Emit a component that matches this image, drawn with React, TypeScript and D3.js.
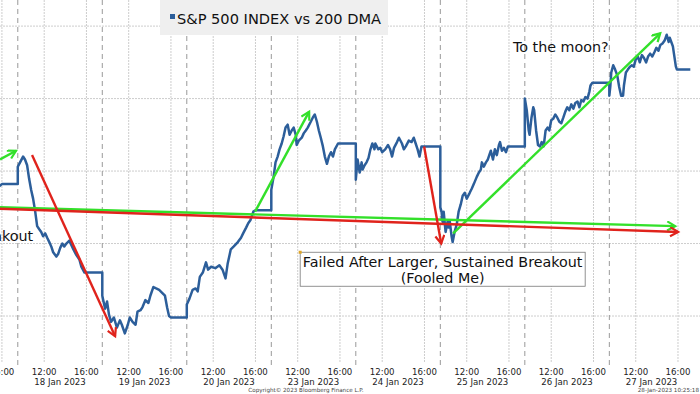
import { useEffect, useRef } from "react";
import * as d3 from "d3";

// trading days on the axis
const days = [
  "17 Jan 2023",
  "18 Jan 2023",
  "19 Jan 2023",
  "20 Jan 2023",
  "23 Jan 2023",
  "24 Jan 2023",
  "25 Jan 2023",
  "26 Jan 2023",
  "27 Jan 2023",
];
const hourTicks = ["12:00", "16:00"];
const yTicks = [3900, 3950, 4000, 4050, 4100];

// S&P 500 intraday, [time, level] per day
const jan17 = [["15:40", 3989], ["16:00", 3991], ["17:30", 3991]];
const jan18 = [
  ["09:30", 4003], ["09:43", 4006], ["10:00", 4010], ["10:11", 4008], ["10:23", 4004],
  ["10:34", 3995], ["10:46", 3987], ["10:57", 3981], ["11:09", 3972], ["11:20", 3962],
  ["11:31", 3960], ["11:43", 3958], ["11:54", 3955], ["12:06", 3957], ["12:17", 3954],
  ["12:29", 3951], ["12:40", 3948], ["12:51", 3944], ["13:09", 3941], ["13:20", 3943],
  ["13:31", 3947], ["13:43", 3950], ["13:54", 3948], ["14:06", 3950], ["14:23", 3952],
  ["14:34", 3949], ["14:46", 3946], ["15:03", 3942], ["15:20", 3939], ["15:31", 3934],
  ["15:49", 3930], ["16:00", 3930], ["17:30", 3930],
];
const jan19 = [
  ["09:30", 3914], ["09:46", 3905], ["09:57", 3910], ["10:08", 3901], ["10:20", 3896],
  ["10:36", 3899], ["10:53", 3892], ["11:10", 3897], ["11:21", 3894], ["11:38", 3888],
  ["11:55", 3894], ["12:06", 3899], ["12:22", 3896], ["12:39", 3894], ["12:50", 3903],
  ["13:07", 3904], ["13:18", 3906], ["13:35", 3911], ["13:52", 3909], ["14:03", 3914],
  ["14:20", 3920], ["14:36", 3919], ["14:53", 3918], ["15:10", 3916], ["15:26", 3914],
  ["15:38", 3906], ["15:49", 3900], ["16:00", 3899], ["17:30", 3899],
];
const jan20 = [
  ["09:30", 3908], ["09:45", 3912], ["10:03", 3918], ["10:20", 3919], ["10:32", 3917],
  ["10:44", 3927], ["11:01", 3930], ["11:19", 3937], ["11:31", 3932], ["11:48", 3934],
  ["12:12", 3933], ["12:35", 3935], ["12:53", 3932], ["13:10", 3926], ["13:22", 3936],
  ["13:40", 3946], ["13:57", 3948], ["14:20", 3951], ["14:38", 3954], ["14:50", 3957],
  ["15:07", 3961], ["15:19", 3964], ["15:31", 3966], ["15:48", 3972], ["16:00", 3973],
  ["17:30", 3973],
];
const jan23 = [
  ["09:30", 3987], ["09:43", 3996], ["09:54", 4006], ["10:06", 4010], ["10:17", 4015],
  ["10:29", 4019], ["10:40", 4024], ["10:51", 4030], ["11:03", 4032], ["11:14", 4025],
  ["11:26", 4028], ["11:37", 4030], ["11:49", 4025], ["11:54", 4018], ["12:06", 4021],
  ["12:23", 4023], ["12:34", 4026], ["12:46", 4028], ["12:57", 4030], ["13:14", 4034],
  ["13:26", 4037], ["13:37", 4039], ["13:49", 4034], ["14:00", 4028], ["14:11", 4023],
  ["14:23", 4017], ["14:34", 4010], ["14:46", 4005], ["14:57", 4010], ["15:09", 4013],
  ["15:20", 4010], ["15:31", 4015], ["15:49", 4019], ["16:00", 4019], ["17:30", 4019],
];
const jan24 = [
  ["09:30", 3994], ["09:40", 4008], ["09:52", 3999], ["10:03", 4006], ["10:08", 4001],
  ["10:20", 4004], ["10:31", 4006], ["10:42", 4009], ["10:53", 4015], ["11:04", 4019],
  ["11:16", 4015], ["11:21", 4019], ["11:38", 4015], ["11:49", 4016], ["12:00", 4013],
  ["12:17", 4015], ["12:33", 4018], ["12:45", 4015], ["12:56", 4010], ["13:07", 4016],
  ["13:24", 4020], ["13:35", 4023], ["13:52", 4019], ["14:03", 4015], ["14:14", 4017],
  ["14:31", 4021], ["14:47", 4020], ["14:59", 4023], ["15:10", 4019], ["15:21", 4015],
  ["15:32", 4010], ["15:43", 4017], ["16:00", 4017], ["17:30", 4017],
];
const jan25 = [
  ["09:30", 3975], ["09:37", 3972], ["09:43", 3965], ["09:49", 3972], ["10:00", 3958],
  ["10:11", 3965], ["10:17", 3961], ["10:23", 3966], ["10:34", 3955], ["10:40", 3951],
  ["10:51", 3958], ["11:03", 3963], ["11:14", 3972], ["11:26", 3977], ["11:37", 3983],
  ["11:49", 3985], ["12:00", 3981], ["12:17", 3985], ["12:29", 3988], ["12:40", 3991],
  ["12:57", 3996], ["13:09", 3999], ["13:20", 4001], ["13:26", 4006], ["13:37", 4003],
  ["13:49", 4006], ["14:00", 4008], ["14:11", 4012], ["14:17", 4014], ["14:29", 4008],
  ["14:40", 4015], ["14:51", 4011], ["15:03", 4018], ["15:09", 4020], ["15:20", 4014],
  ["15:31", 4016], ["15:43", 4013], ["15:54", 4017], ["16:00", 4017], ["17:30", 4017],
];
const jan26 = [
  ["09:30", 4050], ["09:41", 4042], ["09:52", 4028], ["09:57", 4025], ["10:08", 4037],
  ["10:18", 4044], ["10:23", 4042], ["10:34", 4028], ["10:45", 4018], ["10:56", 4017],
  ["11:06", 4020], ["11:17", 4017], ["11:28", 4028], ["11:39", 4030], ["11:49", 4028],
  ["12:00", 4035], ["12:11", 4036], ["12:23", 4039], ["12:34", 4037], ["12:46", 4034],
  ["12:57", 4033], ["13:09", 4037], ["13:20", 4041], ["13:31", 4044], ["13:43", 4042],
  ["13:54", 4046], ["14:06", 4043], ["14:17", 4047], ["14:29", 4048], ["14:40", 4044],
  ["14:51", 4049], ["15:03", 4048], ["15:14", 4051], ["15:26", 4050], ["15:37", 4055],
  ["15:43", 4059], ["15:54", 4061], ["16:00", 4061], ["17:30", 4061],
];
const jan27 = [
  ["09:30", 4052], ["09:36", 4059], ["09:41", 4068], ["09:52", 4073], ["10:03", 4070],
  ["10:15", 4066], ["10:26", 4058], ["10:37", 4052], ["10:48", 4052], ["10:53", 4059],
  ["11:04", 4068], ["11:15", 4070], ["11:27", 4072], ["11:38", 4073], ["11:49", 4072],
  ["12:00", 4077], ["12:12", 4079], ["12:23", 4075], ["12:35", 4080], ["12:47", 4078],
  ["12:59", 4075], ["13:10", 4079], ["13:22", 4081], ["13:34", 4079], ["13:46", 4082],
  ["13:57", 4085], ["14:09", 4083], ["14:20", 4087], ["14:32", 4088], ["14:44", 4090],
  ["14:56", 4094], ["15:07", 4089], ["15:13", 4092], ["15:25", 4088], ["15:31", 4086],
  ["15:37", 4081], ["15:48", 4072], ["15:54", 4070], ["16:00", 4070], ["17:10", 4070],
];
const sessions = [jan17, jan18, jan19, jan20, jan23, jan24, jan25, jan26, jan27];

// hand-drawn arrows: [day index, time, level]
const greenArrows = [
  [[0, "15:49", 3975], [8, "15:44", 3962]],
  [[0, "15:49", 4008], [0, "17:20", 4014]],
  [[3, "15:58", 3972], [4, "13:05", 4041]],
  [[6, "10:43", 3957], [8, "14:19", 4095]],
];
const redArrows = [
  [[0, "15:49", 3974], [8, "16:01", 3958]],
  [[1, "10:51", 4011], [2, "10:43", 3886]],
  [[5, "15:58", 4017], [6, "09:35", 3950]],
];

const W = 700;
const H = 394;
const plotBottom = 363;
const font = "'DejaVu Sans', Verdana, sans-serif";

// hours since 17 Jan open, each session 09:30-17:30
function sessionTime(day, time) {
  const [h, m] = time.split(":").map(Number);
  return day * 8 + (h + m / 60 - 9.5);
}

function App() {
  const ref = useRef(null);

  useEffect(() => {
    const svg = d3.select(ref.current);
    svg.selectAll("*").remove();

    const x = d3
      .scaleLinear()
      .domain([sessionTime(0, "15:49"), sessionTime(8, "18:05")])
      .range([0, W]);
    const y = d3.scaleLinear().domain([3867.6, 4118]).range([plotBottom, 0]);
    const px = (p) => x(sessionTime(p[0], p[1]));
    const py = (p) => y(p[2]);

    svg.append("rect").attr("width", W).attr("height", H).attr("fill", "#fff");

    const defs = svg.append("defs");
    defs
      .append("clipPath")
      .attr("id", "plot")
      .append("rect")
      .attr("width", W)
      .attr("height", plotBottom);
    [
      ["head-green", "#33e02a"],
      ["head-red", "#e0231c"],
    ].forEach(([id, c]) => {
      defs
        .append("marker")
        .attr("id", id)
        .attr("markerUnits", "userSpaceOnUse")
        .attr("markerWidth", 12)
        .attr("markerHeight", 12)
        .attr("refX", 9)
        .attr("refY", 5)
        .attr("orient", "auto")
        .append("path")
        .attr("d", "M1,0.5 L9,5 L1,9.5")
        .attr("fill", "none")
        .attr("stroke", c)
        .attr("stroke-width", 2.2);
    });

    // grid
    const grid = svg.append("g");
    yTicks.forEach((v) => {
      grid
        .append("line")
        .attr("x1", 0)
        .attr("x2", W)
        .attr("y1", y(v))
        .attr("y2", y(v))
        .attr("stroke", "#cdcdcd")
        .attr("stroke-dasharray", "2,1");
    });
    days.forEach((day, d) => {
      hourTicks.forEach((t) => {
        const xx = x(sessionTime(d, t));
        if (xx < 0) return;
        grid
          .append("line")
          .attr("x1", xx)
          .attr("x2", xx)
          .attr("y1", 0)
          .attr("y2", plotBottom)
          .attr("stroke", "#cdcdcd")
          .attr("stroke-dasharray", "2,1");
        svg
          .append("text")
          .attr("x", xx)
          .attr("y", 375)
          .attr("text-anchor", "middle")
          .attr("font-family", font)
          .attr("font-size", 8.6)
          .attr("fill", "#222")
          .text(t);
      });
      if (d === 0) return; // 17 Jan is only partly on the chart
      const xd = x(sessionTime(d, "09:30"));
      grid
        .append("line")
        .attr("x1", xd)
        .attr("x2", xd)
        .attr("y1", 0)
        .attr("y2", plotBottom + 2)
        .attr("stroke", "#999")
        .attr("stroke-dasharray", "5,4");
      svg
        .append("text")
        .attr("x", x(sessionTime(d, "13:30")))
        .attr("y", 384.5)
        .attr("text-anchor", "middle")
        .attr("font-family", font)
        .attr("font-size", 8.6)
        .attr("fill", "#222")
        .text(day);
    });

    const plot = svg.append("g").attr("clip-path", "url(#plot)");

    // price line
    const points = sessions.flatMap((s, d) =>
      s.map(([t, v]) => [sessionTime(d, t), v])
    );
    plot
      .append("path")
      .datum(points)
      .attr(
        "d",
        d3
          .line()
          .x((p) => x(p[0]))
          .y((p) => y(p[1]))
      )
      .attr("fill", "none")
      .attr("stroke", "#2c5e9a")
      .attr("stroke-width", 2.5)
      .attr("stroke-linejoin", "round");

    // arrows
    const drawArrows = (list, color, head) => {
      list.forEach(([a, b]) => {
        plot
          .append("line")
          .attr("x1", px(a))
          .attr("y1", py(a))
          .attr("x2", px(b))
          .attr("y2", py(b))
          .attr("stroke", color)
          .attr("stroke-width", 2.4)
          .attr("marker-end", `url(#${head})`);
      });
    };
    drawArrows(greenArrows, "#33e02a", "head-green");
    drawArrows(redArrows, "#e0231c", "head-red");

    // notes
    const breakout = [1, "10:57", 3952];
    svg
      .append("text")
      .attr("x", px(breakout))
      .attr("y", py(breakout))
      .attr("text-anchor", "end")
      .attr("font-family", font)
      .attr("font-size", 14.3)
      .attr("fill", "#111")
      .text("Breakout");

    const moon = [6, "16:23", 4082];
    svg
      .append("text")
      .attr("x", px(moon))
      .attr("y", py(moon))
      .attr("font-family", font)
      .attr("font-size", 14.3)
      .attr("fill", "#111")
      .text("To the moon?");

    const boxAt = [4, "12:14", 3944];
    const box = svg
      .append("g")
      .attr("transform", `translate(${px(boxAt)},${py(boxAt)})`);
    box
      .append("rect")
      .attr("width", 285)
      .attr("height", 34)
      .attr("fill", "#fff")
      .attr("stroke", "#777")
      .attr("stroke-width", 0.8);
    box
      .append("rect")
      .attr("x", -1.5)
      .attr("y", -1.5)
      .attr("width", 3)
      .attr("height", 3)
      .attr("fill", "#e0a526");
    ["Failed After Larger, Sustained Breakout", "(Fooled Me)"].forEach((t, i) => {
      box
        .append("text")
        .attr("x", 142.5)
        .attr("y", 15 + i * 16)
        .attr("text-anchor", "middle")
        .attr("font-family", font)
        .attr("font-size", 14.3)
        .attr("fill", "#111")
        .text(t);
    });

    // legend
    const lg = svg.append("g");
    lg.append("rect")
      .attr("x", 160)
      .attr("y", 0)
      .attr("width", 228)
      .attr("height", 35)
      .attr("fill", "#efefef");
    lg.append("rect")
      .attr("x", 170)
      .attr("y", 14)
      .attr("width", 5)
      .attr("height", 5)
      .attr("fill", "#2c5e9a");
    lg.append("text")
      .attr("x", 177)
      .attr("y", 24)
      .attr("font-family", font)
      .attr("font-size", 14.6)
      .attr("fill", "#111")
      .text("S&P 500 INDEX vs 200 DMA");

    // footer
    svg
      .append("text")
      .attr("x", 306)
      .attr("y", 392)
      .attr("text-anchor", "middle")
      .attr("font-family", font)
      .attr("font-size", 5.6)
      .attr("fill", "#444")
      .text("Copyright\u00a9 2023 Bloomberg Finance L.P.");
    svg
      .append("text")
      .attr("x", 699)
      .attr("y", 392)
      .attr("text-anchor", "end")
      .attr("font-family", font)
      .attr("font-size", 5.6)
      .attr("fill", "#444")
      .text("28-Jan-2023 10:25:18");
  }, []);

  return (
    <svg
      ref={ref}
      width={W}
      height={H}
      style={{ position: "absolute", left: 0, top: 0 }}
    />
  );
}

export default App;
